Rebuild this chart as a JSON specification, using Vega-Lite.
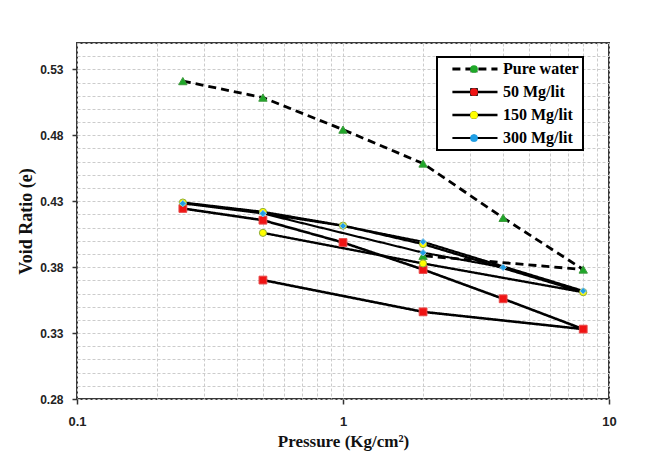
{
  "$schema": "https://vega.github.io/schema/vega-lite/v6.json",
  "width": 532,
  "height": 356,
  "autosize": {"type": "none"},
  "padding": {"left": 77, "top": 43, "right": 49, "bottom": 53},
  "background": "white",
  "config": {
    "view": {"stroke": "#3a3a3a", "strokeWidth": 2},
    "font": "Liberation Sans"
  },
  "data": {
    "values": [
      {"series": "Pure water", "seq": 1, "p": 0.25, "e": 0.5211},
      {"series": "Pure water", "seq": 2, "p": 0.5, "e": 0.5086},
      {"series": "Pure water", "seq": 3, "p": 1, "e": 0.4843},
      {"series": "Pure water", "seq": 4, "p": 2, "e": 0.4586},
      {"series": "Pure water", "seq": 5, "p": 4, "e": 0.4174},
      {"series": "Pure water", "seq": 6, "p": 8, "e": 0.3782},
      {"series": "Pure water", "seq": 7, "p": 2, "e": 0.3886},
      {"series": "50 Mg/lit", "seq": 1, "p": 0.25, "e": 0.4245},
      {"series": "50 Mg/lit", "seq": 2, "p": 0.5, "e": 0.4156},
      {"series": "50 Mg/lit", "seq": 3, "p": 1, "e": 0.3987},
      {"series": "50 Mg/lit", "seq": 4, "p": 2, "e": 0.3782},
      {"series": "50 Mg/lit", "seq": 5, "p": 4, "e": 0.356},
      {"series": "50 Mg/lit", "seq": 6, "p": 8, "e": 0.333},
      {"series": "50 Mg/lit", "seq": 7, "p": 2, "e": 0.3461},
      {"series": "50 Mg/lit", "seq": 8, "p": 0.5, "e": 0.3702},
      {"series": "150 Mg/lit", "seq": 1, "p": 0.25, "e": 0.429},
      {"series": "150 Mg/lit", "seq": 2, "p": 0.5, "e": 0.4219},
      {"series": "150 Mg/lit", "seq": 3, "p": 1, "e": 0.4115},
      {"series": "150 Mg/lit", "seq": 4, "p": 2, "e": 0.3975},
      {"series": "150 Mg/lit", "seq": 5, "p": 8, "e": 0.361},
      {"series": "150 Mg/lit", "seq": 6, "p": 2, "e": 0.3828},
      {"series": "150 Mg/lit", "seq": 7, "p": 0.5, "e": 0.406},
      {"series": "300 Mg/lit", "seq": 1, "p": 0.25, "e": 0.4283},
      {"series": "300 Mg/lit", "seq": 2, "p": 0.5, "e": 0.4207},
      {"series": "300 Mg/lit", "seq": 3, "p": 1, "e": 0.4113},
      {"series": "300 Mg/lit", "seq": 4, "p": 2, "e": 0.3992},
      {"series": "300 Mg/lit", "seq": 5, "p": 8, "e": 0.362},
      {"series": "300 Mg/lit", "seq": 6, "p": 4, "e": 0.3798},
      {"series": "300 Mg/lit", "seq": 7, "p": 2, "e": 0.391},
      {"series": "300 Mg/lit", "seq": 8, "p": 0.5, "e": 0.4207}
    ]
  },
  "encoding": {
    "x": {
      "field": "p",
      "type": "quantitative",
      "scale": {"type": "log", "domain": [0.1, 10], "nice": false},
      "axis": {
        "values": [0.1, 0.2, 0.3, 0.4, 0.5, 0.6, 0.7, 0.8, 0.9, 1, 2, 3, 4, 5, 6, 7, 8, 9, 10],
        "labelExpr": "datum.value == 0.1 || datum.value == 1 || datum.value == 10 ? format(datum.value, '~g') : ''",
        "tickOpacity": {"condition": {"test": "datum.value == 0.1 || datum.value == 1 || datum.value == 10", "value": 1}, "value": 0},
        "tickColor": "#333",
        "tickSize": 5,
        "tickWidth": 1.5,
        "domain": false,
        "gridColor": "#cccccc",
        "gridDash": [3, 2],
        "gridWidth": 1,
        "labelFont": "Liberation Sans",
        "labelFontWeight": "bold",
        "labelFontSize": 13,
        "labelColor": "#222",
        "labelPadding": 11,
        "labelOverlap": false,
        "labelFlush": false,
        "labelBound": false,
        "title": "Pressure (Kg/cm²)",
        "titleFont": "Liberation Serif",
        "titleFontSize": 17,
        "titleFontWeight": "bold",
        "titleColor": "#111",
        "titlePadding": 5
      }
    },
    "y": {
      "field": "e",
      "type": "quantitative",
      "scale": {"domain": [0.28, 0.55], "nice": false, "zero": false},
      "axis": {
        "values": [0.28, 0.29, 0.3, 0.31, 0.32, 0.33, 0.34, 0.35, 0.36, 0.37, 0.38, 0.39, 0.4, 0.41, 0.42, 0.43, 0.44, 0.45, 0.46, 0.47, 0.48, 0.49, 0.5, 0.51, 0.52, 0.53, 0.54, 0.55],
        "labelExpr": "indexof([28, 33, 38, 43, 48, 53], round(datum.value * 100)) >= 0 ? format(datum.value, '.2f') : ''",
        "tickOpacity": {"condition": {"test": "indexof([28, 33, 38, 43, 48, 53], round(datum.value * 100)) >= 0", "value": 1}, "value": 0},
        "tickColor": "#333",
        "tickSize": 5,
        "tickWidth": 1.5,
        "domain": false,
        "gridColor": "#cccccc",
        "gridDash": [3, 2],
        "gridWidth": 1,
        "labelFont": "Liberation Sans",
        "labelFontWeight": "bold",
        "labelFontSize": 12,
        "labelColor": "#222",
        "labelPadding": 9,
        "labelOverlap": false,
        "labelBound": false,
        "title": "Void Ratio (e)",
        "titleFont": "Liberation Serif",
        "titleFontSize": 18,
        "titleFontWeight": "bold",
        "titleColor": "#111",
        "titlePadding": 4
      }
    }
  },
  "layer": [
    {
      "mark": {"type": "line", "color": "black"},
      "encoding": {
        "strokeDash": {
          "field": "series",
          "type": "nominal",
          "scale": {"domain": ["Pure water", "50 Mg/lit", "150 Mg/lit", "300 Mg/lit"], "range": [[8, 5], [1, 0], [1, 0], [1, 0]]},
          "legend": {
            "title": null,
            "orient": "none",
            "legendX": 360,
            "legendY": 14,
            "zindex": 1,
            "padding": 4,
            "strokeColor": "black",
            "fillColor": "white",
            "symbolType": "M-0.64,0H1",
            "symbolSize": 3025,
            "symbolStrokeColor": "black",
            "symbolStrokeWidth": 2.4,
            "symbolFillColor": "transparent",
            "labelFont": "Liberation Serif",
            "labelFontSize": 16,
            "labelFontWeight": "bold",
            "labelColor": "black",
            "labelOffset": 4,
            "rowPadding": 7,
            "clipHeight": 16,
            "labelExpr": "datum.label + '\u00a0\u00a0\u00a0\u00a0'",
            "encode": {"legend": {"update": {"strokeWidth": {"value": 2}}}}
          }
        },
        "strokeWidth": {
          "field": "series",
          "type": "nominal",
          "scale": {"domain": ["Pure water", "50 Mg/lit", "150 Mg/lit", "300 Mg/lit"], "range": [2.8, 2.1, 2.1, 2]},
          "legend": null
        },
        "order": {"field": "seq", "type": "quantitative"}
      }
    },
    {
      "mark": {"type": "point", "filled": true, "opacity": 1, "strokeWidth": 1},
      "encoding": {
        "shape": {
          "field": "series",
          "type": "nominal",
          "sort": ["Pure water", "50 Mg/lit", "150 Mg/lit", "300 Mg/lit"],
          "scale": {"range": ["triangle-up", "square", "circle", "diamond"]},
          "legend": {
            "title": null,
            "orient": "none",
            "legendX": 389,
            "legendY": 18,
            "zindex": 2,
            "padding": 0,
            "symbolSize": 60,
            "labelExpr": "''",
            "labelFontSize": 16,
            "labelOffset": 0,
            "rowPadding": 7,
            "clipHeight": 16
          }
        },
        "fill": {
          "field": "series",
          "type": "nominal",
          "sort": ["Pure water", "50 Mg/lit", "150 Mg/lit", "300 Mg/lit"],
          "scale": {"range": ["#1fa829", "#f01414", "#ffff00", "#1e9fe6"]},
          "legend": {
            "title": null,
            "orient": "none",
            "legendX": 389,
            "legendY": 18,
            "zindex": 2,
            "padding": 0,
            "symbolSize": 60,
            "labelExpr": "''",
            "labelFontSize": 16,
            "labelOffset": 0,
            "rowPadding": 7,
            "clipHeight": 16
          }
        },
        "stroke": {
          "field": "series",
          "type": "nominal",
          "sort": ["Pure water", "50 Mg/lit", "150 Mg/lit", "300 Mg/lit"],
          "scale": {"range": ["#3d9a3d", "#e84a4a", "#8fae3c", "#8cc6e8"]},
          "legend": null
        },
        "size": {
          "field": "series",
          "type": "nominal",
          "sort": ["Pure water", "50 Mg/lit", "150 Mg/lit", "300 Mg/lit"],
          "scale": {"range": [70, 42, 60, 50]},
          "legend": null
        }
      }
    }
  ]
}
